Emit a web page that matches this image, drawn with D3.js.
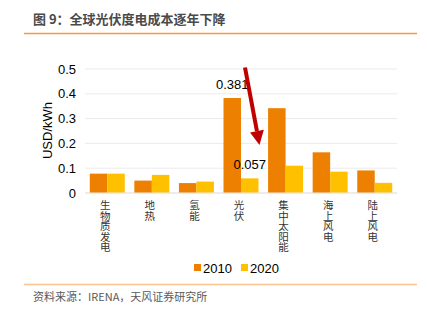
<!DOCTYPE html>
<html>
<head>
<meta charset="utf-8">
<script src="https://d3js.org/d3.v7.min.js"></script>
<style>
  body { margin: 0; background: #fff; }
  text { font-family: "Liberation Sans", Arial, sans-serif; }
  .cn { font-family: "Noto Sans CJK SC", sans-serif; }
  .tick text { font-size: 13px; fill: #000; }
  .grid line { stroke: #ebebeb; }
  path.domain { display: none; }
</style>
</head>
<body>
<script>
const categories = ['生物质发电', '地热', '氢能', '光伏', '集中太阳能', '海上风电', '陆上风电'];
const series = ['2010', '2020'];
const values2010 = [0.076, 0.048, 0.038, 0.381, 0.340, 0.162, 0.089];
const values2020 = [0.076, 0.071, 0.044, 0.057, 0.108, 0.084, 0.039];
const yTicks = [0, 0.1, 0.2, 0.3, 0.4, 0.5];
const colours = {'2010': '#ed8000', '2020': '#ffc000'};

const width = 427, height = 323;
const svg = d3.select('body').append('svg')
  .attr('width', width)
  .attr('height', height);

// header + footer
svg.append('text')
  .attr('class', 'cn')
  .attr('x', 33).attr('y', 24)
  .style('font-size', '13px')
  .style('font-weight', 'bold')
  .style('fill', '#4a4a4a')
  .text('图 9：全球光伏度电成本逐年下降');
svg.append('line')
  .attr('x1', 24).attr('x2', 417).attr('y1', 33.5).attr('y2', 33.5)
  .style('stroke', '#f39a3c').style('stroke-width', 1.5);
svg.append('line')
  .attr('x1', 24).attr('x2', 417).attr('y1', 284.5).attr('y2', 284.5)
  .style('stroke', '#f8c38f').style('stroke-width', 1.5);
svg.append('text')
  .attr('class', 'cn')
  .attr('x', 33).attr('y', 301)
  .style('font-size', '11px')
  .style('fill', '#595959')
  .text('资料来源：IRENA，天风证券研究所');

const x = d3.scaleBand()
  .domain(categories)
  .range([85, 397])
  .paddingInner(0.215)
  .paddingOuter(0.107);
const xs = d3.scaleBand().domain(series).range([0, x.bandwidth()]);
const y = d3.scaleLinear().domain([0, 0.5]).range([192.5, 68.5]);

// gridlines
svg.append('g')
  .attr('class', 'grid')
  .attr('transform', 'translate(85,0)')
  .call(d3.axisLeft(y).tickValues(yTicks).tickSize(-(397 - 85)).tickFormat(''))
  .selectAll('line')
  .style('stroke', d => d === 0 ? '#d9d9d9' : '#ebebeb');

svg.append('g')
  .attr('transform', 'translate(76,0)')
  .call(d3.axisLeft(y).tickValues(yTicks).tickSize(0).tickPadding(0).tickFormat(d => d === 0 ? '0' : d3.format('.1f')(d)))
  .selectAll('text').attr('dy', '0.35em');

svg.append('text')
  .attr('transform', `translate(52,${(y(0) + y(0.5)) / 2}) rotate(-90)`)
  .attr('text-anchor', 'middle')
  .style('font-size', '13px')
  .text('USD/kWh');

const rows = categories.map((c, i) => ({cat: c, '2010': values2010[i], '2020': values2020[i]}));

const groups = svg.selectAll('g.cat')
  .data(rows)
  .enter().append('g')
  .attr('class', 'cat')
  .attr('transform', d => `translate(${x(d.cat)},0)`);

groups.selectAll('rect')
  .data(d => series.map(s => ({s, v: d[s]})))
  .enter().append('rect')
  .attr('x', d => xs(d.s))
  .attr('width', xs.bandwidth())
  .attr('y', d => y(d.v))
  .attr('height', d => y(0) - y(d.v))
  .style('fill', d => colours[d.s]);

// category labels, vertical
svg.selectAll('text.xlab')
  .data(categories)
  .enter().append('text')
  .attr('class', 'xlab cn')
  .attr('x', d => x(d) + x.bandwidth() / 2 - 2)
  .attr('y', 200)
  .style('writing-mode', 'vertical-rl')
  .style('font-size', '10.5px')
  .style('fill', '#333')
  .text(d => d);

// value labels for PV
const pv = '光伏';
const pvIdx = categories.indexOf(pv);
[['2010', values2010[pvIdx]], ['2020', values2020[pvIdx]]].forEach(([s, v]) => {
  svg.append('text')
    .attr('x', x(pv) + xs(s) + xs.bandwidth() / 2)
    .attr('y', y(v) - 9.5)
    .attr('text-anchor', 'middle')
    .style('font-size', '13px')
    .text(d3.format('.3f')(v));
});

// red arrow
const ax0 = x(pv) + xs('2020') + 4, ay0 = y(0.5) - 1;
const ax1 = x(pv) + xs('2020') + xs.bandwidth() + 1, ay1 = y(0.192);
const ang = Math.atan2(ay1 - ay0, ax1 - ax0);
const headLen = 14, headW = 7;
const bx = ax1 - headLen * Math.cos(ang), by = ay1 - headLen * Math.sin(ang);
svg.append('line')
  .attr('x1', ax0).attr('y1', ay0).attr('x2', bx).attr('y2', by)
  .style('stroke', '#c00000').style('stroke-width', 4);
svg.append('path')
  .attr('d', `M${ax1},${ay1}L${bx + headW * Math.sin(ang)},${by - headW * Math.cos(ang)}L${bx - headW * Math.sin(ang)},${by + headW * Math.cos(ang)}Z`)
  .style('fill', '#c00000');

// legend
const legend = svg.append('g').attr('transform', 'translate(194,268)');
series.forEach((s, i) => {
  const g = legend.append('g').attr('transform', `translate(${i * 47},0)`);
  g.append('rect').attr('x', 0).attr('y', -4).attr('width', 7).attr('height', 7).style('fill', colours[s]);
  g.append('text').attr('x', 9).attr('y', 0).attr('dy', '0.35em').style('font-size', '13px').text(s);
});
</script>
</body>
</html>
